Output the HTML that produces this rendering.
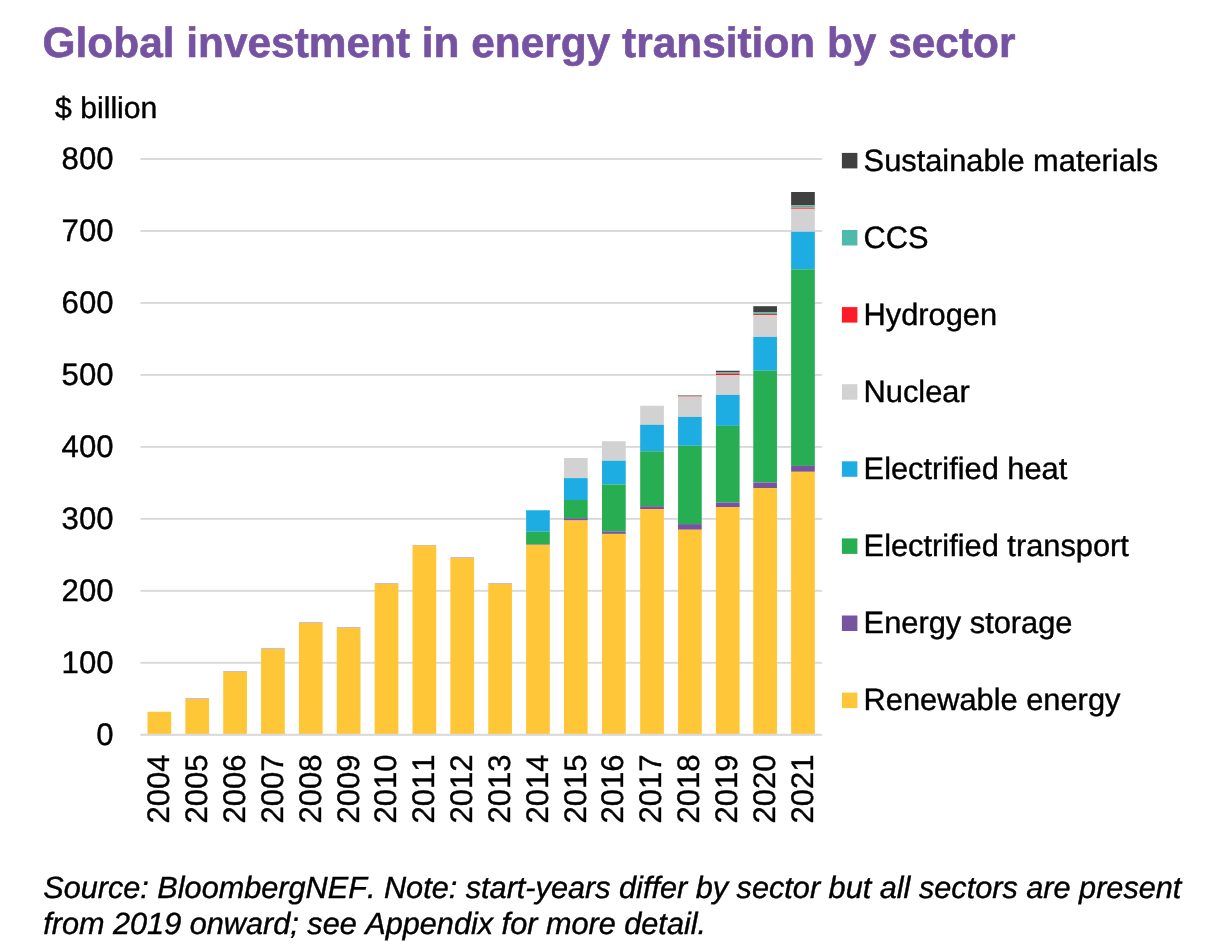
<!DOCTYPE html>
<html lang="en"><head><meta charset="utf-8"><title>Global investment in energy transition by sector</title>
<style>
html,body{margin:0;padding:0;background:#fff;}
body{width:1232px;height:952px;overflow:hidden;font-family:"Liberation Sans",Arial,Helvetica,sans-serif;}
svg{display:block}
text{font-kerning:none;text-rendering:geometricPrecision;stroke:#000;stroke-width:0.4px;font-family:"Liberation Sans",Arial,Helvetica,sans-serif;fill:#000}
.t{font-size:30.67px}
.ax{font-size:31.1px}
.lg{font-size:30.8px}
.bil{font-size:30.2px}
.title{font-size:42.4px;font-weight:bold;fill:#7653A2;stroke:#7653A2;stroke-width:0.6px}
.src{font-size:30.67px;font-style:italic}
</style></head><body>
<svg width="1232" height="952" viewBox="0 0 1232 952">
<rect width="1232" height="952" fill="#fff"/>
<text class="title" x="42.6" y="56.75">Global investment in energy transition by sector</text>
<text class="bil" x="55" y="117.5">$ billion</text>
<rect x="140.40" y="158.05" width="681.50" height="1.9" fill="#D9D9D9"/>
<rect x="140.40" y="230.02" width="681.50" height="1.9" fill="#D9D9D9"/>
<rect x="140.40" y="301.99" width="681.50" height="1.9" fill="#D9D9D9"/>
<rect x="140.40" y="373.96" width="681.50" height="1.9" fill="#D9D9D9"/>
<rect x="140.40" y="445.93" width="681.50" height="1.9" fill="#D9D9D9"/>
<rect x="140.40" y="517.90" width="681.50" height="1.9" fill="#D9D9D9"/>
<rect x="140.40" y="589.87" width="681.50" height="1.9" fill="#D9D9D9"/>
<rect x="140.40" y="661.84" width="681.50" height="1.9" fill="#D9D9D9"/>
<text class="ax" x="113.5" y="169.10" text-anchor="end">800</text>
<text class="ax" x="113.5" y="241.07" text-anchor="end">700</text>
<text class="ax" x="113.5" y="313.04" text-anchor="end">600</text>
<text class="ax" x="113.5" y="385.01" text-anchor="end">500</text>
<text class="ax" x="113.5" y="456.98" text-anchor="end">400</text>
<text class="ax" x="113.5" y="528.95" text-anchor="end">300</text>
<text class="ax" x="113.5" y="600.92" text-anchor="end">200</text>
<text class="ax" x="113.5" y="672.89" text-anchor="end">100</text>
<text class="ax" x="113.5" y="744.86" text-anchor="end">0</text>
<rect x="147.50" y="711.75" width="23.70" height="23.25" fill="#FFC638"/>
<rect x="185.36" y="698.60" width="23.70" height="0.40" fill="#7654A2"/>
<rect x="185.36" y="699.00" width="23.70" height="36.00" fill="#FFC638"/>
<rect x="223.22" y="671.60" width="23.70" height="0.40" fill="#7654A2"/>
<rect x="223.22" y="672.00" width="23.70" height="63.00" fill="#FFC638"/>
<rect x="261.08" y="648.60" width="23.70" height="0.40" fill="#7654A2"/>
<rect x="261.08" y="649.00" width="23.70" height="86.00" fill="#FFC638"/>
<rect x="298.94" y="622.60" width="23.70" height="0.40" fill="#7654A2"/>
<rect x="298.94" y="623.00" width="23.70" height="112.00" fill="#FFC638"/>
<rect x="336.80" y="627.60" width="23.70" height="0.40" fill="#7654A2"/>
<rect x="336.80" y="628.00" width="23.70" height="107.00" fill="#FFC638"/>
<rect x="374.66" y="583.60" width="23.70" height="0.40" fill="#7654A2"/>
<rect x="374.66" y="584.00" width="23.70" height="151.00" fill="#FFC638"/>
<rect x="412.52" y="545.10" width="23.70" height="0.40" fill="#7654A2"/>
<rect x="412.52" y="545.50" width="23.70" height="189.50" fill="#FFC638"/>
<rect x="450.38" y="557.60" width="23.70" height="0.40" fill="#7654A2"/>
<rect x="450.38" y="558.00" width="23.70" height="177.00" fill="#FFC638"/>
<rect x="488.24" y="583.60" width="23.70" height="0.40" fill="#7654A2"/>
<rect x="488.24" y="584.00" width="23.70" height="151.00" fill="#FFC638"/>
<rect x="526.10" y="510.25" width="23.70" height="21.50" fill="#1EADE3"/>
<rect x="526.10" y="531.75" width="23.70" height="12.65" fill="#27AE52"/>
<rect x="526.10" y="544.40" width="23.70" height="0.50" fill="#7654A2"/>
<rect x="526.10" y="544.90" width="23.70" height="190.10" fill="#FFC638"/>
<rect x="563.96" y="458.00" width="23.70" height="20.10" fill="#D2D2D2"/>
<rect x="563.96" y="478.10" width="23.70" height="21.90" fill="#1EADE3"/>
<rect x="563.96" y="500.00" width="23.70" height="18.20" fill="#27AE52"/>
<rect x="563.96" y="518.20" width="23.70" height="2.30" fill="#7654A2"/>
<rect x="563.96" y="520.50" width="23.70" height="214.50" fill="#FFC638"/>
<rect x="602.02" y="441.25" width="23.70" height="19.50" fill="#D2D2D2"/>
<rect x="602.02" y="460.75" width="23.70" height="23.65" fill="#1EADE3"/>
<rect x="602.02" y="484.40" width="23.70" height="47.00" fill="#27AE52"/>
<rect x="602.02" y="531.40" width="23.70" height="2.50" fill="#7654A2"/>
<rect x="602.02" y="533.90" width="23.70" height="201.10" fill="#FFC638"/>
<rect x="640.18" y="405.75" width="23.70" height="19.00" fill="#D2D2D2"/>
<rect x="640.18" y="424.75" width="23.70" height="26.50" fill="#1EADE3"/>
<rect x="640.18" y="451.25" width="23.70" height="54.95" fill="#27AE52"/>
<rect x="640.18" y="506.20" width="23.70" height="2.80" fill="#7654A2"/>
<rect x="640.18" y="509.00" width="23.70" height="226.00" fill="#FFC638"/>
<rect x="678.04" y="395.10" width="23.70" height="0.40" fill="#404040"/>
<rect x="678.04" y="395.50" width="23.70" height="0.40" fill="#4EBBAA"/>
<rect x="678.04" y="395.90" width="23.70" height="0.70" fill="#FF1A28"/>
<rect x="678.04" y="396.60" width="23.70" height="20.30" fill="#D2D2D2"/>
<rect x="678.04" y="416.90" width="23.70" height="28.85" fill="#1EADE3"/>
<rect x="678.04" y="445.75" width="23.70" height="78.35" fill="#27AE52"/>
<rect x="678.04" y="524.10" width="23.70" height="5.65" fill="#7654A2"/>
<rect x="678.04" y="529.75" width="23.70" height="205.25" fill="#FFC638"/>
<rect x="715.90" y="370.75" width="23.70" height="1.35" fill="#404040"/>
<rect x="715.90" y="372.10" width="23.70" height="1.40" fill="#4EBBAA"/>
<rect x="715.90" y="373.50" width="23.70" height="1.50" fill="#FF1A28"/>
<rect x="715.90" y="375.00" width="23.70" height="19.90" fill="#D2D2D2"/>
<rect x="715.90" y="394.90" width="23.70" height="31.00" fill="#1EADE3"/>
<rect x="715.90" y="425.90" width="23.70" height="76.60" fill="#27AE52"/>
<rect x="715.90" y="502.50" width="23.70" height="4.50" fill="#7654A2"/>
<rect x="715.90" y="507.00" width="23.70" height="228.00" fill="#FFC638"/>
<rect x="753.26" y="306.20" width="23.70" height="5.90" fill="#404040"/>
<rect x="753.26" y="312.10" width="23.70" height="1.80" fill="#4EBBAA"/>
<rect x="753.26" y="313.90" width="23.70" height="1.30" fill="#F62A36"/>
<rect x="753.26" y="315.20" width="23.70" height="21.70" fill="#D2D2D2"/>
<rect x="753.26" y="336.90" width="23.70" height="33.85" fill="#1EADE3"/>
<rect x="753.26" y="370.75" width="23.70" height="111.75" fill="#27AE52"/>
<rect x="753.26" y="482.50" width="23.70" height="5.50" fill="#7654A2"/>
<rect x="753.26" y="488.00" width="23.70" height="247.00" fill="#FFC638"/>
<rect x="791.12" y="192.00" width="23.70" height="13.30" fill="#404040"/>
<rect x="791.12" y="205.30" width="23.70" height="2.00" fill="#4EBBAA"/>
<rect x="791.12" y="207.30" width="23.70" height="1.70" fill="#F0646E"/>
<rect x="791.12" y="209.00" width="23.70" height="22.75" fill="#D2D2D2"/>
<rect x="791.12" y="231.75" width="23.70" height="37.55" fill="#1EADE3"/>
<rect x="791.12" y="269.30" width="23.70" height="196.60" fill="#27AE52"/>
<rect x="791.12" y="465.90" width="23.70" height="5.90" fill="#7654A2"/>
<rect x="791.12" y="471.80" width="23.70" height="263.20" fill="#FFC638"/>
<rect x="140.40" y="733.75" width="681.50" height="2.1" fill="#D9D9D9"/>
<text class="ax" transform="translate(169.40,823.6) rotate(-90)">2004</text>
<text class="ax" transform="translate(207.24,823.6) rotate(-90)">2005</text>
<text class="ax" transform="translate(245.08,823.6) rotate(-90)">2006</text>
<text class="ax" transform="translate(282.92,823.6) rotate(-90)">2007</text>
<text class="ax" transform="translate(320.76,823.6) rotate(-90)">2008</text>
<text class="ax" transform="translate(358.60,823.6) rotate(-90)">2009</text>
<text class="ax" transform="translate(396.44,823.6) rotate(-90)">2010</text>
<text class="ax" transform="translate(434.28,823.6) rotate(-90)">2011</text>
<text class="ax" transform="translate(472.12,823.6) rotate(-90)">2012</text>
<text class="ax" transform="translate(509.96,823.6) rotate(-90)">2013</text>
<text class="ax" transform="translate(547.80,823.6) rotate(-90)">2014</text>
<text class="ax" transform="translate(585.64,823.6) rotate(-90)">2015</text>
<text class="ax" transform="translate(623.48,823.6) rotate(-90)">2016</text>
<text class="ax" transform="translate(661.32,823.6) rotate(-90)">2017</text>
<text class="ax" transform="translate(699.16,823.6) rotate(-90)">2018</text>
<text class="ax" transform="translate(737.00,823.6) rotate(-90)">2019</text>
<text class="ax" transform="translate(774.84,823.6) rotate(-90)">2020</text>
<text class="ax" transform="translate(812.68,823.6) rotate(-90)">2021</text>
<rect x="841.9" y="152.90" width="15.5" height="15.5" fill="#404040"/>
<text class="lg" x="863.6" y="170.60">Sustainable materials</text>
<rect x="841.9" y="230.00" width="15.5" height="15.5" fill="#4EBBAA"/>
<text class="lg" x="863.6" y="247.70">CCS</text>
<rect x="841.9" y="307.10" width="15.5" height="15.5" fill="#FF1A28"/>
<text class="lg" x="863.6" y="324.80">Hydrogen</text>
<rect x="841.9" y="384.20" width="15.5" height="15.5" fill="#D2D2D2"/>
<text class="lg" x="863.6" y="401.90">Nuclear</text>
<rect x="841.9" y="461.30" width="15.5" height="15.5" fill="#1EADE3"/>
<text class="lg" x="863.6" y="479.00">Electrified heat</text>
<rect x="841.9" y="538.40" width="15.5" height="15.5" fill="#27AE52"/>
<text class="lg" x="863.6" y="556.10">Electrified transport</text>
<rect x="841.9" y="615.50" width="15.5" height="15.5" fill="#7654A2"/>
<text class="lg" x="863.6" y="633.20">Energy storage</text>
<rect x="841.9" y="692.60" width="15.5" height="15.5" fill="#FFC638"/>
<text class="lg" x="863.6" y="710.30">Renewable energy</text>
<text class="src" x="43.2" y="897.5">Source: BloombergNEF. Note: start-years differ by sector but all sectors are present</text>
<text class="src" x="43.2" y="934.25">from 2019 onward; see Appendix for more detail.</text>
</svg></body></html>
